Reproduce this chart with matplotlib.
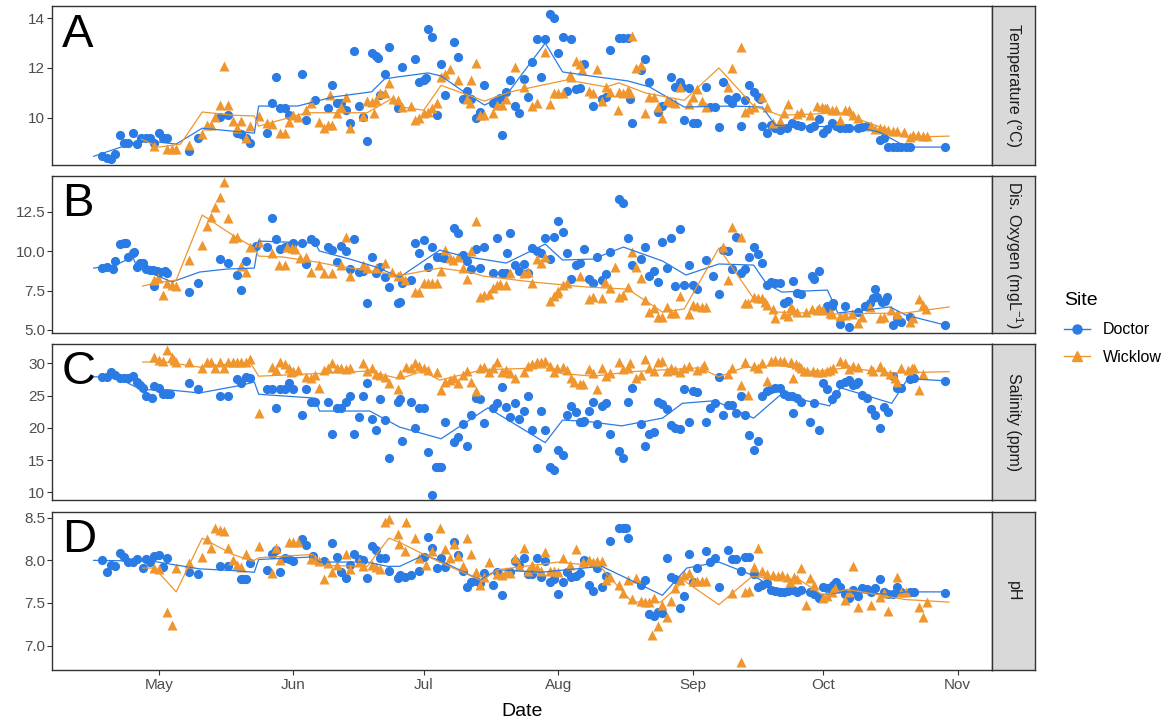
import numpy as np
import matplotlib
matplotlib.use("Agg")
import matplotlib.pyplot as plt
import matplotlib.dates as mdates
from matplotlib.lines import Line2D

plt.rcParams['font.family'] = ['Liberation Sans', 'DejaVu Sans']
plt.rcParams['mathtext.fontset'] = 'custom'
plt.rcParams['mathtext.rm'] = 'Liberation Sans'

# samples are (day of year 2019, value)
temp_doctor = [
    (108, 8.45), (109, 8.37), (110, 8.33), (111, 8.53), (112, 9.3), (113, 9.0), (114, 9.0), (115, 9.4), (116, 8.95), (117, 9.2),
    (118, 9.2), (119, 9.2), (120, 9.0), (121, 9.4), (122, 9.2), (123, 9.2), (128, 8.66), (130, 9.18), (135, 10.03), (137, 10.1),
    (139, 9.4), (140, 9.35), (141, 9.2), (142, 8.98), (146, 9.38), (147, 10.6), (148, 11.64), (149, 10.39), (150, 10.39), (151, 10.1),
    (154, 11.76), (155, 9.9), (157, 10.7), (160, 10.4), (161, 11.3), (162, 10.6), (163, 10.6), (164, 10.3), (165, 9.8), (166, 12.7),
    (167, 10.47), (168, 10.03), (169, 9.06), (170, 12.6), (171, 12.5), (171.5, 12.4), (172, 10.9), (173, 11.76), (174, 12.84), (176, 10.4),
    (177, 12.04), (180, 12.36), (181, 11.43), (182, 11.5), (182.5, 11.6), (183, 13.57), (184, 13.25), (185, 10.1), (186, 12.16), (187, 10.9),
    (189, 13.05), (190, 12.45), (191, 10.75), (192, 11.07), (193, 10.75), (194, 9.98), (195, 10.23), (196, 11.3), (198, 10.6), (199, 10.7),
    (199.5, 10.8), (200, 9.3), (201, 11.04), (202, 11.5), (203, 10.47), (204, 10.2), (205, 11.56), (206, 10.83), (207, 12.25), (208, 13.17),
    (209, 11.64), (210, 13.17), (211, 14.17), (212, 14.0), (213, 12.6), (214, 13.25), (215, 11.07), (216, 13.17), (217, 11.15), (218, 11.2),
    (219, 12.16), (221, 10.47), (223, 10.75), (224, 10.83), (225, 12.72), (227, 13.2), (228, 13.2), (229, 13.2), (229.5, 10.75), (230, 9.8),
    (232, 11.9), (233, 12.36), (234, 11.43), (236, 10.23), (237, 10.47), (239, 11.64), (240, 11.24), (241, 11.43), (241.5, 11.24), (242, 9.9),
    (243, 11.2), (244, 9.8), (245, 9.8), (247, 11.24), (248, 10.43), (249, 10.43), (250, 9.62), (251, 11.43), (252, 10.75), (253, 10.6),
    (254, 10.83), (255, 9.66), (256, 10.7), (257, 11.3), (258, 11.04), (259, 10.83), (259.5, 10.75), (260, 9.66), (261, 9.38), (262, 9.7),
    (263, 9.6), (264, 9.5), (264.5, 9.6), (265.6, 9.6), (266.8, 9.8), (268, 9.7), (269, 9.66), (271, 9.6), (272, 9.66), (273, 9.94),
    (274, 9.38), (275, 9.54), (276, 9.8), (277, 9.66), (278, 9.6), (279, 9.6), (280, 9.6), (282, 9.6), (283, 9.62), (284, 9.66),
    (287, 9.1), (288, 9.2), (289, 8.82), (290, 8.82), (291, 8.82), (292, 8.82), (293, 8.82), (294, 8.82), (302, 8.82),
]
temp_wicklow = [
    (120, 8.86), (123, 8.74), (124, 8.74), (125, 8.74), (128, 8.9), (131, 9.34), (132, 9.7), (133, 9.7), (134, 10.03), (135, 10.5),
    (136, 12.08), (137, 10.5), (138, 9.86), (139, 9.58), (140, 9.86), (141, 9.18), (142, 9.66), (144, 10.07), (146, 9.8), (147, 9.75),
    (149, 9.38), (150, 9.38), (151, 9.82), (152, 10.1), (153, 10.03), (155, 10.3), (156, 10.6), (158, 9.82), (159, 9.58), (160, 9.7),
    (160.5, 10.9), (161, 9.7), (162, 10.2), (163, 10.43), (164, 10.83), (165, 9.58), (168, 10.07), (169, 10.67), (170, 10.63), (170.5, 10.2),
    (171, 10.7), (172, 11.0), (173, 11.0), (174, 11.4), (175, 10.75), (176, 10.7), (177, 10.43), (179, 10.47), (180, 9.9), (181, 10.0),
    (182, 10.2), (183, 10.23), (184, 10.4), (185, 10.6), (186, 11.64), (187, 11.76), (188, 11.96), (190, 11.5), (192, 10.75), (192.6, 10.6),
    (193, 11.5), (194, 12.2), (195, 10.1), (196, 10.1), (198, 10.2), (199, 10.5), (200, 10.5), (201, 10.75), (203, 12.04), (205, 11.24),
    (207, 10.47), (208, 10.6), (210, 12.64), (211, 10.55), (212, 11.0), (213, 11.0), (214, 11.0), (215.6, 11.72), (216, 11.64), (217, 12.28),
    (218, 12.16), (218.5, 11.92), (220, 11.07), (221, 11.0), (222, 11.96), (223, 10.67), (224, 11.24), (225, 11.04), (227, 11.04), (226.7, 10.3),
    (228, 11.0), (229, 11.1), (229.5, 11.0), (230, 13.29), (231, 12.0), (232, 12.12), (233, 10.2), (234, 10.83), (235, 10.83), (236, 10.43),
    (237, 10.0), (238, 10.7), (239, 10.63), (240, 10.6), (241, 11.24), (243, 10.55), (244, 10.83), (245, 11.15), (246, 10.67), (247, 10.43),
    (252, 11.24), (253, 12.0), (255, 12.84), (256, 10.23), (257, 10.35), (258, 10.43), (260, 10.83), (261, 10.43), (262.5, 9.8), (264, 9.86),
    (265, 10.2), (266, 10.55), (268, 10.15), (269, 10.23), (271, 10.1), (272.7, 10.47), (273.7, 10.43), (274.4, 10.4), (275, 10.4), (276, 10.3),
    (277, 10.3), (278, 9.9), (279, 10.3), (280, 10.3), (281, 10.1), (282, 10.0), (285, 9.66), (286, 9.54), (287, 9.6), (288, 9.55),
    (289, 9.5), (290, 9.46), (291, 9.46), (292.6, 9.42), (294, 9.22), (294.6, 9.3), (295.8, 9.3), (297, 9.26), (298, 9.26),
]
temp_doctor_trend = [
    (106, 8.45), (117, 9.1), (125, 8.94), (131, 9.58), (138, 9.46), (143, 9.38), (144, 10.47), (153, 10.47), (161, 10.83), (170, 11.04),
    (173, 11.56), (176, 11.64), (183, 11.8), (186, 11.68), (191, 11.07), (196, 10.51), (201, 10.9), (210, 13.0), (214, 11.84), (222, 11.64),
    (229, 11.48), (234, 11.24), (242, 10.43), (253, 10.47), (260, 10.43), (263, 9.7), (269, 9.66), (282, 9.62), (287, 9.42), (292, 8.94),
    (293, 8.82), (302, 8.82),
]
temp_wicklow_trend = [
    (117, 9.14), (121, 8.82), (126, 8.94), (131, 10.23), (138, 10.1), (143, 10.07), (144, 9.66), (155, 10.2), (169, 10.2), (175, 10.8),
    (177, 10.43), (182, 10.3), (186, 11.3), (196, 10.67), (202, 11.04), (215, 11.52), (224, 11.24), (227, 11.4), (233, 11.0), (242, 10.7),
    (250, 12.0), (258, 10.47), (264, 10.1), (272, 10.15), (278, 10.2), (286, 9.7), (293, 9.22), (303, 9.26),
]

oxy_doctor = [
    (108, 8.92), (109, 8.99), (110.4, 8.86), (111, 9.37), (112, 10.44), (113, 10.5), (113.5, 10.5), (114, 9.62), (115, 9.87), (115.4, 9.94),
    (116, 8.99), (116.6, 9.24), (117.3, 9.24), (118, 8.86), (119, 8.8), (119.6, 8.8), (120.5, 8.73), (121.2, 8.67), (122.4, 8.73), (123, 8.6),
    (120, 7.78), (128, 7.4), (130, 7.97), (135, 9.49), (137, 9.24), (139, 8.48), (140, 7.53), (141, 9.37), (143.5, 10.32), (146, 10.25),
    (147, 12.09), (148, 10.76), (149, 10.13), (150, 10.25), (151, 10.32), (152, 10.5), (154, 10.5), (155, 9.18), (156, 10.76), (157, 10.57),
    (160, 10.25), (161, 10.06), (162, 9.3), (163, 10.32), (164, 10.0), (165, 8.86), (166, 10.76), (167, 8.67), (168, 8.73), (169, 6.71),
    (170, 9.62), (171, 8.6), (172, 8.99), (173, 8.35), (174, 7.72), (176, 6.71), (176.5, 6.77), (177, 7.97), (179, 8.16), (180, 10.5),
    (181, 9.87), (182, 10.7), (183, 8.99), (184, 10.25), (185, 9.62), (186, 9.62), (186.6, 9.56), (189, 11.46), (190, 11.14), (191, 9.75),
    (192, 9.37), (193, 8.86), (195, 8.92), (194, 10.13), (196, 10.25), (198, 8.6), (200, 8.6), (201, 8.6), (199, 10.82), (201.3, 9.87),
    (202, 11.14), (203, 9.11), (204, 8.73), (205, 9.18), (206, 8.6), (207, 10.19), (208, 10.0), (209, 9.87), (210, 10.82), (211, 9.49),
    (212, 10.89), (213, 11.9), (214, 11.2), (215, 9.87), (216, 8.23), (217, 9.11), (218, 9.24), (219, 10.13), (220, 8.23), (221, 7.97),
    (222, 9.62), (223, 8.16), (224, 8.54), (225, 9.94), (227, 13.29), (228, 13.04), (229, 10.82), (230, 9.11), (232, 9.49), (233, 10.25),
    (234, 8.42), (235, 8.73), (236, 8.04), (237, 10.57), (238, 8.92), (239, 10.82), (240, 7.78), (241, 11.39), (242, 7.85), (244, 7.85),
    (243, 9.11), (245, 7.59), (247, 9.43), (248.6, 8.42), (250, 7.28), (251, 10.06), (252, 10.0), (253, 8.86), (254, 10.89), (255, 8.6),
    (256, 8.86), (257, 9.62), (258, 10.25), (259, 9.81), (260, 9.24), (261, 7.85), (262, 8.04), (263, 7.97), (264, 7.97), (265, 6.71),
    (266, 6.84), (267, 8.1), (268, 7.34), (269, 7.28), (271.4, 8.42), (272, 8.23), (273, 8.73), (274.4, 6.27), (275, 6.52), (276, 6.52),
    (276.3, 6.71), (278, 5.38), (279, 6.52), (280, 5.19), (282, 6.14), (283.6, 6.52), (284.7, 6.71), (285.4, 7.03), (286, 7.59), (286.5, 7.09),
    (287.5, 6.77), (288.2, 6.84), (288.7, 7.09), (290, 5.32), (291, 5.76), (292, 5.51), (294, 5.82), (302, 5.32),
]
oxy_wicklow = [
    (120, 8.16), (120.7, 8.29), (122, 7.2), (123, 7.97), (124, 7.85), (125, 7.78), (128, 9.43), (131, 10.38), (132, 11.58), (133, 12.15),
    (134, 12.78), (135, 13.42), (136, 14.37), (137, 12.09), (138, 10.82), (139, 10.89), (140, 9.05), (141, 8.67), (142, 10.25), (144, 10.57),
    (147, 9.87), (148.6, 9.11), (150, 9.11), (150.5, 10.25), (151.6, 10.19), (152.3, 10.13), (153.5, 9.56), (155, 9.62), (156, 8.67), (158, 9.11),
    (159, 8.6), (161, 8.6), (163, 9.11), (164, 10.89), (165, 8.42), (168, 9.11), (169, 8.92), (171, 8.92), (173, 9.24), (174.6, 8.67),
    (176, 8.42), (176.5, 8.48), (177.6, 8.16), (180, 7.4), (181, 7.4), (182, 7.97), (183, 7.97), (184, 7.97), (185, 7.97), (186, 8.73),
    (187, 10.06), (188, 9.56), (188.7, 9.43), (190, 9.62), (191, 8.92), (192, 8.23), (193, 10.0), (194, 11.9), (195, 7.09), (196, 7.2),
    (197, 7.28), (198, 7.66), (199, 7.85), (199.5, 7.91), (201, 7.85), (202, 8.6), (205, 8.6), (206, 8.67), (207, 7.97), (208, 9.49),
    (209, 9.24), (210, 9.62), (211, 6.84), (212, 7.15), (212.6, 7.34), (213, 7.47), (214, 7.85), (215, 7.97), (218, 8.42), (220, 6.96),
    (221, 7.09), (223, 7.03), (223.7, 8.04), (225, 7.66), (226, 8.99), (227, 7.09), (228, 7.2), (229, 7.72), (230, 9.94), (231, 8.99),
    (232, 8.29), (233, 6.9), (234, 6.14), (235, 6.39), (236, 5.82), (237, 5.82), (238, 6.46), (239, 6.08), (240, 6.08), (241, 7.15),
    (243, 6.01), (244, 6.58), (245, 6.52), (246, 6.46), (247, 6.46), (251, 10.25), (252, 8.16), (253, 11.52), (255, 10.89), (256, 6.71),
    (256.6, 6.71), (258, 7.09), (259, 7.03), (260, 7.03), (260.6, 6.77), (261, 6.58), (262.5, 6.33), (263, 5.76), (265, 6.01), (266, 5.89),
    (266.5, 6.46), (267, 6.27), (268, 6.14), (270, 6.14), (271.4, 6.33), (272.5, 6.27), (273, 6.39), (274, 6.27), (275.5, 6.08), (276, 6.01),
    (278, 5.89), (279, 5.95), (280.6, 6.01), (282, 5.44), (283, 5.82), (284.7, 6.46), (287, 5.76), (288, 5.82), (289.6, 6.27), (291, 6.01),
    (294, 5.51), (294.8, 5.76), (296, 6.96), (297, 6.58), (297.7, 6.33),
]
oxy_doctor_trend = [
    (106, 8.92), (111, 9.11), (115, 9.62), (116, 8.99), (124, 8.04), (130.4, 8.67), (136.7, 8.86), (143, 8.92), (144, 10.63), (157, 10.5),
    (158, 10.0), (165, 9.49), (171, 8.99), (176.5, 8.35), (185.7, 10.06), (191, 9.68), (201, 9.24), (210, 10.44), (214, 9.43), (221, 9.49),
    (228, 10.25), (237, 9.37), (242.4, 8.48), (250, 9.18), (258, 9.11), (261, 7.91), (264.5, 7.4), (275, 7.53), (277.4, 6.08), (284, 6.27),
    (289.4, 6.46), (293, 5.95), (302, 5.32),
]
oxy_wicklow_trend = [
    (117.3, 7.78), (120, 7.97), (125, 8.16), (131, 12.28), (138, 11.01), (142.7, 10.25), (144, 9.68), (149.6, 9.62), (157.4, 9.3), (161, 9.11),
    (176.5, 8.45), (185.7, 8.92), (192.6, 8.67), (195.6, 8.42), (207, 8.04), (219.6, 7.72), (229, 7.59), (237, 6.14), (242, 6.33), (250, 10.19),
    (257.6, 7.15), (263, 6.14), (276, 6.01), (293, 6.08), (303, 6.46),
]

sal_doctor = [
    (108, 27.9), (109, 27.9), (110, 28.7), (111, 28.2), (112, 27.7), (113, 27.7), (114, 27.7), (115, 28.0), (116, 27.1), (116.6, 26.6),
    (117.3, 26.2), (118, 24.9), (119.4, 24.6), (120, 26.5), (121, 26.2), (122, 25.2), (123, 25.2), (123.5, 25.2), (128, 27.0), (130, 26.0),
    (135, 25.0), (137, 25.0), (139, 27.6), (140, 27.0), (141, 27.9), (142, 27.7), (146, 26.0), (147, 26.0), (148, 23.1), (149, 26.0),
    (150, 26.0), (151, 27.0), (152, 26.0), (154, 22.0), (155, 26.0), (156, 24.0), (157, 24.0), (160, 24.0), (161, 19.0), (162, 23.1),
    (163, 23.1), (164, 24.0), (165, 25.0), (166, 19.0), (167, 21.6), (168, 25.0), (169, 27.0), (170, 21.4), (171, 19.6), (172, 24.4),
    (173, 21.2), (174, 15.3), (176, 24.0), (176.5, 24.4), (177, 18.0), (179, 24.0), (180, 20.0), (181, 23.1), (182, 23.1), (183, 16.3),
    (184, 9.6), (184.8, 14.0), (185.5, 14.0), (186, 14.0), (187, 20.9), (189, 17.8), (190, 18.6), (191, 20.6), (192, 17.2), (193, 22.0),
    (194, 24.6), (195, 24.4), (196, 20.8), (198, 23.1), (199, 23.8), (200, 26.3), (201, 23.3), (202, 21.6), (203, 23.8), (204, 21.4),
    (205, 22.6), (206, 25.0), (207, 19.7), (208, 16.8), (209, 22.6), (210, 19.7), (211, 14.0), (212, 13.5), (213, 16.6), (214, 15.8),
    (215, 22.0), (216, 23.4), (217, 22.4), (218, 20.9), (218.6, 20.9), (219, 21.0), (220, 22.6), (221, 24.0), (222, 20.6), (223, 23.4),
    (224, 23.8), (225, 19.0), (227, 16.4), (228, 15.3), (229, 24.0), (230, 26.2), (232, 20.6), (233, 17.2), (234, 19.0), (235, 19.4),
    (236, 24.0), (237, 23.7), (238, 22.9), (239, 20.4), (240, 20.0), (241, 19.8), (242, 26.0), (243, 20.9), (244, 25.7), (245, 25.6),
    (247, 20.9), (248, 23.1), (249, 23.8), (250, 27.9), (251, 22.0), (252, 23.5), (253, 23.5), (254, 22.3), (255, 25.0), (256, 22.0),
    (257, 18.9), (258, 16.6), (259, 18.0), (260, 25.0), (261, 25.7), (262, 26.0), (263, 26.2), (264, 26.2), (265, 25.3), (266, 25.0),
    (266.8, 25.0), (267, 22.3), (268, 24.6), (269, 24.0), (271, 20.9), (272, 23.8), (273, 19.7), (274, 27.0), (275, 26.0), (276, 24.4),
    (277, 25.2), (278, 26.8), (279, 27.1), (280, 27.4), (281, 26.6), (281.5, 26.8), (282, 27.1), (283, 25.1), (284, 24.6), (285, 22.9),
    (286, 22.0), (287, 20.0), (288, 23.2), (289, 22.5), (290, 28.0), (291, 26.2), (292, 26.2), (294, 27.6), (295, 27.7), (302, 27.3),
]
sal_wicklow = [
    (120, 31.0), (121, 30.5), (122, 30.4), (123, 32.1), (124, 31.0), (124.5, 30.5), (125, 30.2), (128, 30.2), (131, 29.3), (132, 30.2),
    (133, 30.2), (134, 29.3), (135, 30.2), (136, 29.3), (137, 30.2), (138, 30.2), (139, 30.2), (140, 30.2), (141, 30.2), (142, 30.7),
    (144, 22.3), (147, 29.4), (148, 29.0), (149, 30.2), (150, 29.9), (151, 29.3), (151.5, 28.7), (152, 28.8), (153, 29.0), (155, 27.9),
    (156, 27.7), (157, 28.2), (158, 26.2), (159, 29.0), (160, 29.3), (161, 30.0), (162, 29.3), (163, 29.3), (164, 29.1), (165, 29.3),
    (168, 30.0), (169, 28.8), (170, 29.3), (171, 28.4), (172, 28.2), (173, 27.9), (174, 27.0), (176, 26.0), (176.5, 28.4), (178, 29.4),
    (179, 29.3), (180, 30.0), (181, 29.6), (182, 29.3), (183, 29.0), (185, 28.7), (186, 25.9), (187, 27.1), (188, 27.4), (189, 27.7),
    (190, 27.0), (191, 28.2), (192, 28.8), (193, 27.1), (194, 25.7), (195, 29.3), (196, 29.4), (197, 28.7), (198, 29.3), (199, 30.2),
    (200, 28.7), (201, 29.0), (202, 28.5), (203, 27.7), (205, 28.7), (206, 29.6), (207, 29.9), (208, 30.2), (209, 30.2), (210, 30.4),
    (211, 29.6), (212, 28.7), (212.6, 29.3), (214, 29.4), (215, 29.0), (216, 27.7), (216.6, 27.1), (218, 26.8), (218.6, 26.8), (220, 29.1),
    (221, 28.5), (222, 26.0), (223, 29.3), (224, 28.0), (225, 28.5), (227, 30.2), (228, 29.1), (229, 29.3), (229.5, 30.0), (231, 27.7),
    (232, 28.2), (233, 30.7), (234, 29.3), (235, 28.8), (236, 30.2), (237, 30.4), (238, 28.8), (239, 29.3), (240, 29.0), (241, 28.7),
    (242, 29.3), (243, 29.6), (245, 29.0), (246, 29.3), (246.5, 29.8), (252, 28.4), (253, 29.3), (255, 26.6), (256.6, 25.1), (256, 30.2),
    (258, 29.6), (259, 29.3), (260, 30.0), (261, 27.3), (262, 30.4), (263, 30.5), (264, 30.4), (265, 30.4), (266.6, 30.2), (267, 27.7),
    (267.7, 29.9), (268.4, 29.6), (268.8, 29.3), (269.5, 28.8), (270.4, 28.8), (271.6, 28.8), (272.7, 28.7), (273.8, 28.7), (275, 28.8), (275.5, 29.0),
    (276.3, 29.3), (278, 30.4), (279, 30.0), (280, 29.1), (281, 29.6), (282, 29.4), (285, 29.1), (285.5, 28.8), (287, 29.6), (288, 28.8),
    (289.4, 28.4), (290.5, 27.7), (291, 27.1), (292, 29.3), (293.5, 29.0), (294.5, 29.3), (295, 29.3), (296, 25.9), (297, 28.4),
]
sal_doctor_trend = [
    (106, 27.9), (111, 27.9), (117, 25.9), (123, 25.9), (130.4, 25.4), (140, 26.6), (143, 27.1), (144, 25.2), (157, 24.6), (158, 22.6),
    (169.6, 22.6), (176.5, 20.1), (186, 18.3), (196.8, 23.1), (210, 17.7), (214, 21.2), (219.6, 21.0), (227.6, 20.3), (237, 21.5), (241.6, 23.8),
    (249, 24.2), (258, 21.5), (264, 25.0), (271.6, 24.0), (275.5, 23.4), (278, 26.2), (282, 25.4), (289.8, 23.8), (293.5, 27.6), (302, 27.3),
]
sal_wicklow_trend = [
    (117.3, 30.2), (122.4, 30.2), (130.4, 29.4), (142, 30.2), (144, 28.0), (157.4, 28.4), (169, 28.8), (176.5, 27.6), (181.8, 28.8), (185.7, 27.4),
    (195.6, 29.0), (210, 29.3), (214, 28.4), (221, 28.0), (230, 28.7), (245.6, 29.3), (250, 27.9), (255.5, 29.3), (264, 29.7), (271.6, 28.7),
    (279.5, 29.3), (289.4, 28.5), (303, 28.7),
]

ph_doctor = [
    (108, 8.0), (109, 7.86), (110, 7.95), (111, 7.93), (112, 8.09), (113, 8.04), (114, 7.98), (115, 7.98), (116, 8.01), (117.3, 7.91),
    (118, 8.01), (119, 7.98), (120, 8.05), (121, 8.06), (122, 7.92), (123, 8.03), (128, 7.86), (130, 7.84), (135, 7.93), (137, 7.93),
    (140, 7.78), (140.5, 7.78), (141, 7.78), (142, 7.97), (146, 7.89), (147, 8.07), (148, 8.12), (149, 7.86), (150, 8.03), (151, 8.01),
    (152, 7.99), (154, 8.25), (155, 8.18), (156.5, 8.05), (159, 7.99), (161, 8.2), (162, 8.04), (163, 7.86), (164, 7.79), (165, 7.95),
    (166, 8.08), (167, 8.01), (168, 8.0), (169, 7.79), (170, 8.17), (171, 8.12), (172, 8.03), (173, 8.03), (174, 7.88), (176, 7.79),
    (176.5, 7.83), (177.6, 7.81), (179, 7.83), (181, 7.88), (182, 8.04), (183, 8.27), (184, 8.14), (185, 7.91), (186, 8.03), (187, 7.92),
    (189, 8.21), (190, 8.06), (191, 7.88), (192, 7.69), (193, 7.75), (194, 7.76), (195, 7.74), (196, 7.85), (198, 7.71), (199, 7.86),
    (200, 7.59), (202, 7.86), (203, 7.99), (204, 7.95), (205, 8.03), (206, 7.84), (207, 7.84), (208, 8.03), (209, 7.81), (210, 7.99),
    (211, 7.75), (212, 7.78), (213, 7.6), (214, 7.75), (215, 7.86), (216, 7.81), (217, 7.82), (218, 7.85), (219, 8.0), (220, 7.71),
    (221, 7.64), (222, 7.91), (223, 7.69), (224, 7.82), (225, 8.23), (227, 8.38), (228, 8.38), (228.6, 8.38), (229, 8.26), (232, 7.71),
    (233, 7.77), (234, 7.37), (235, 7.35), (236, 7.39), (236.5, 7.39), (237, 7.38), (238, 8.03), (239, 7.81), (240, 7.78), (241, 7.44),
    (242, 7.58), (243, 8.08), (244, 7.75), (245, 7.91), (247, 8.11), (248, 7.98), (249, 8.03), (250, 7.69), (252, 8.12), (253, 8.01),
    (254, 8.01), (255, 7.88), (256, 8.04), (257, 8.04), (258, 7.84), (259, 7.69), (260, 7.71), (261, 7.74), (262, 7.65), (263, 7.64),
    (264, 7.63), (265, 7.63), (266, 7.64), (267, 7.65), (268, 7.63), (269, 7.65), (271, 7.63), (272, 7.6), (273, 7.56), (274, 7.69),
    (275, 7.68), (275.5, 7.68), (276.3, 7.71), (277, 7.75), (278, 7.69), (279, 7.61), (280, 7.56), (281, 7.65), (282, 7.58), (283, 7.68),
    (284, 7.66), (285, 7.63), (286, 7.68), (287, 7.78), (288, 7.63), (289, 7.6), (290, 7.6), (291, 7.69), (292, 7.63), (294, 7.63),
    (295, 7.63), (302, 7.62),
]
ph_wicklow = [
    (120, 7.91), (121, 7.9), (123, 7.4), (124, 7.24), (125, 7.91), (128, 7.97), (131, 8.04), (132, 8.25), (133, 8.15), (134, 8.38),
    (135, 8.36), (136, 8.34), (137, 8.15), (138, 8.0), (139, 7.95), (140, 7.92), (141, 8.07), (144, 8.17), (147, 7.85), (148, 8.15),
    (149, 8.0), (151, 8.21), (152, 8.21), (153, 8.21), (156, 8.01), (157, 8.02), (158, 7.99), (159, 7.78), (160, 7.97), (161, 7.86),
    (162, 7.94), (164, 8.07), (165, 7.9), (167, 7.98), (168, 7.93), (170, 7.94), (171, 7.92), (172, 7.9), (173, 8.45), (174, 8.48),
    (176, 8.31), (176.4, 8.19), (177.6, 8.11), (178, 8.45), (180, 8.26), (181, 8.03), (182.6, 7.95), (184, 8.11), (185.7, 8.38), (187, 8.13),
    (188, 8.03), (189, 8.19), (190, 8.05), (191, 7.93), (192, 8.26), (193, 8.08), (194, 7.86), (195, 7.71), (196, 7.81), (197, 7.98),
    (199, 7.84), (200, 7.83), (201, 7.86), (202, 7.85), (203, 8.03), (204, 7.93), (205, 8.15), (206, 7.87), (207, 7.95), (208, 7.91),
    (209, 7.87), (210, 8.1), (211, 7.87), (212, 7.87), (213, 7.86), (214, 8.03), (215.6, 7.94), (217, 8.13), (218.7, 7.98), (220, 8.0),
    (221, 7.98), (222, 7.99), (223, 7.99), (224, 7.77), (225, 7.81), (227, 7.71), (228, 7.62), (229, 7.77), (230, 7.55), (231, 7.79),
    (232, 7.52), (233, 7.51), (234, 7.51), (234.5, 7.12), (235, 7.56), (236, 7.23), (237, 7.48), (238, 7.33), (239, 7.52), (240, 7.67),
    (241, 7.77), (242, 7.83), (243, 7.85), (244, 7.76), (245, 7.76), (246, 7.76), (247, 7.76), (253, 7.62), (255, 6.81), (256, 7.63),
    (257, 7.64), (258, 7.92), (259, 8.15), (260, 7.88), (261, 7.84), (262.5, 7.83), (263.5, 7.82), (264.5, 7.83), (265.6, 7.81), (266.3, 7.75),
    (267.4, 7.8), (268, 7.78), (269, 7.91), (270, 7.48), (271, 7.79), (272, 7.71), (274, 7.56), (275, 7.58), (276, 7.63), (276.7, 7.67),
    (279, 7.54), (280, 7.63), (281, 7.93), (282, 7.45), (285, 7.48), (287, 7.57), (288, 7.62), (289, 7.41), (291, 7.81), (292, 7.63),
    (293, 7.63), (296, 7.45), (297, 7.33), (298, 7.51),
]
ph_doctor_trend = [
    (106, 8.0), (119.6, 7.99), (130.4, 7.9), (138, 7.88), (143, 7.86), (144, 8.01), (156.5, 8.04), (158, 7.98), (169, 7.98), (173.6, 7.93),
    (176.5, 7.93), (182, 8.06), (185.7, 8.0), (195, 7.77), (199, 7.89), (209, 7.86), (223, 7.93), (237, 7.59), (242.6, 7.91), (250, 7.98),
    (258, 7.82), (262.5, 7.68), (268.6, 7.64), (274, 7.6), (279.5, 7.63), (289.8, 7.6), (293, 7.63), (302, 7.63),
]
ph_wicklow_trend = [
    (117.3, 7.91), (120, 7.91), (125, 7.63), (131, 8.26), (138, 8.07), (142.6, 7.99), (144, 8.03), (156.5, 8.07), (158, 7.94), (169, 7.93),
    (174, 8.26), (176.5, 8.21), (182, 8.07), (185.7, 7.98), (195.4, 7.76), (199, 7.89), (213, 7.98), (222.6, 7.93), (230, 7.51), (236.6, 7.51),
    (242, 7.76), (250, 7.48), (257.6, 7.81), (268.6, 7.77), (274, 7.59), (279.5, 7.66), (293, 7.54), (303, 7.51),
]

panel_letters = ['A', 'B', 'C', 'D']
strip_labels = ['Temperature (°C)', 'Dis. Oxygen (mgL$^{-1}$)', 'Salinity (ppm)', 'pH']
site_names = ['Doctor', 'Wicklow']

doctor_col = '#2B7BE4'
wicklow_col = '#EF962E'
frame_col = '#333333'
tick_col = '#4D4D4D'

day0 = mdates.date2num(np.datetime64('2019-01-01'))


def to_num(days):
    return day0 + np.asarray(days, dtype=float) - 1


def split(pairs):
    d, v = zip(*pairs)
    return to_num(d), np.array(v)


W, H = 1171, 724
fig = plt.figure(figsize=(W / 100, H / 100), dpi=100)

# panel boxes in pixels: top, bottom
boxes = [(6, 165), (176, 333), (344, 500), (512, 670)]
ylims = [(8.10, 14.49), (4.81, 14.75), (8.81, 32.99), (6.714, 8.567)]
yticks = [[10, 12, 14], [5.0, 7.5, 10.0, 12.5], [10, 15, 20, 25, 30], [7.0, 7.5, 8.0, 8.5]]
yfmt = ['{:.0f}', '{:.1f}', '{:.0f}', '{:.1f}']
series = [
    (temp_doctor, temp_wicklow, temp_doctor_trend, temp_wicklow_trend),
    (oxy_doctor, oxy_wicklow, oxy_doctor_trend, oxy_wicklow_trend),
    (sal_doctor, sal_wicklow, sal_doctor_trend, sal_wicklow_trend),
    (ph_doctor, ph_wicklow, ph_doctor_trend, ph_wicklow_trend),
]

left, right, strip_w = 52, 992, 43
for i, (top, bot) in enumerate(boxes):
    ax = fig.add_axes([left / W, 1 - bot / H, (right - left) / W, (bot - top) / H])
    doc, wic, doc_tr, wic_tr = series[i]

    x, y = split(doc)
    ax.scatter(x, y, s=44, marker='o', color=doctor_col, linewidths=0, zorder=3)
    x, y = split(wic)
    ax.scatter(x, y, s=52, marker='^', color=wicklow_col, linewidths=0, zorder=3)
    x, y = split(doc_tr)
    ax.plot(x, y, color=doctor_col, lw=0.9, zorder=4)
    x, y = split(wic_tr)
    ax.plot(x, y, color=wicklow_col, lw=0.9, zorder=4)

    ax.set_xlim(to_num(96.4), to_num(312.9))
    ax.set_ylim(*ylims[i])
    ax.set_yticks(yticks[i])
    ax.set_yticklabels([yfmt[i].format(t) for t in yticks[i]])
    ax.tick_params(axis='y', length=3.5, width=0.8, color=frame_col, pad=1.5,
                   labelsize=11, labelcolor=tick_col)
    for sp in ax.spines.values():
        sp.set_color(frame_col)
        sp.set_linewidth(1.0)

    if i == 3:
        ax.xaxis.set_major_locator(mdates.MonthLocator())
        ax.xaxis.set_major_formatter(mdates.DateFormatter('%b'))
        ax.tick_params(axis='x', length=3.5, width=0.8, color=frame_col, pad=2.5,
                       labelsize=11, labelcolor=tick_col)
    else:
        ax.tick_params(axis='x', bottom=False, labelbottom=False)

    ax.text(0.0106, 0.745, panel_letters[i], transform=ax.transAxes,
            fontsize=34, color='black', ha='left', va='baseline')

    sax = fig.add_axes([right / W, 1 - bot / H, strip_w / W, (bot - top) / H])
    sax.set_facecolor('#D9D9D9')
    sax.set_xticks([])
    sax.set_yticks([])
    for sp in sax.spines.values():
        sp.set_color(frame_col)
        sp.set_linewidth(1.0)
    sax.text(0.5, 0.5, strip_labels[i], rotation=270, ha='center', va='center',
             fontsize=11.5, color='#1A1A1A', transform=sax.transAxes)

fig.text((left + right) / 2 / W, 1 - 712 / H, 'Date', ha='center', va='center', fontsize=14)

handles = [
    Line2D([0], [0], color=doctor_col, marker='o', markersize=6.5, lw=1),
    Line2D([0], [0], color=wicklow_col, marker='^', markersize=7, lw=1),
]
fig.legend(handles, site_names, title='Site', loc='upper left',
           bbox_to_anchor=(1058 / W, 1 - 286 / H), frameon=False,
           fontsize=11.5, title_fontsize=14, handlelength=1.6, handletextpad=0.8,
           labelspacing=0.8, alignment='left', borderaxespad=0)

fig.savefig('out.png', dpi=100)
